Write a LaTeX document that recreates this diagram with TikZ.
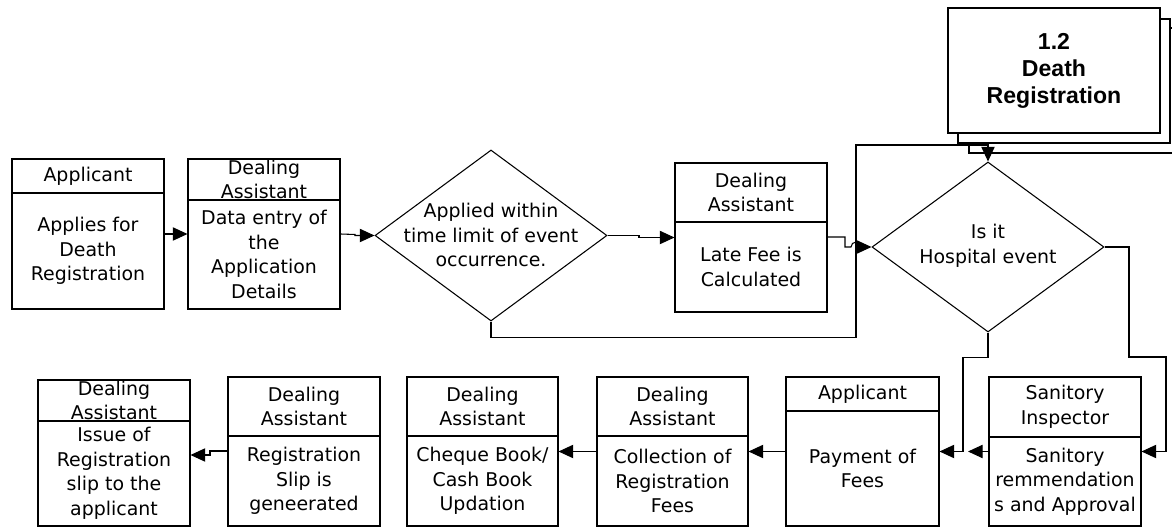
\documentclass[tikz,border=0pt]{standalone}
\usepackage{fontspec}
\setmainfont{DejaVu Sans}
\newfontfamily\procfont{Liberation Sans}
\usetikzlibrary{arrows.meta,shapes.geometric}

\tikzset{
  lane/.style={draw, line width=0.8pt, fill=white, inner sep=0pt},
  lanetxt/.style={align=center, font=\fontsize{14.2}{18.4}\selectfont, inner sep=0pt},
  decision/.style={diamond, draw, line width=0.8pt, inner sep=0pt},
  flow/.style={line width=0.8pt, -{Triangle[length=11pt,width=10pt]}},
  link/.style={line width=0.8pt},
  docpage/.style={draw, line width=1pt, fill=white, inner sep=0pt},
}

% swimlane box: name, x1, y1, x2, y2, divider y, actor, activity
\newcommand\lanebox[8]{%
  \node[lane, minimum width={(#4-#2)*0.75pt}, minimum height={(#5-#3)*0.75pt}]
    (#1) at ({(#2+#4)/2},{(#3+#5)/2}) {};
  \draw[link] (#2,#6) -- (#4,#6);
  \node[lanetxt] (#1h) at ({(#2+#4)/2},{(#3+#6)/2}) {#7};
  \node[lanetxt] (#1b) at ({(#2+#4)/2},{(#6+#5)/2}) {#8};
}

\begin{document}
\begin{tikzpicture}[x=0.75pt,y=-0.75pt]
\useasboundingbox (0,0) rectangle (1172,527);
\clip (0,0) rectangle (1172,527);

% process 1.2 drawn as a stack of pages
\node[docpage, minimum width={216*0.75pt}, minimum height={125*0.75pt}] (pg3) at (1077,90.5) {};
\node[docpage, minimum width={212*0.75pt}, minimum height={124*0.75pt}] (pg2) at (1064,81) {};
\node[docpage, minimum width={212*0.75pt}, minimum height={125*0.75pt},
      align=center, font=\procfont\bfseries\fontsize{17.3}{20.3}\selectfont] (pg1) at (1054,70.5)
      {1.2\\Death\\Registration};

% upper row
\lanebox{app}{12}{159}{164}{309}{193}{Applicant}{Applies for\\Death\\Registration}
\lanebox{entry}{188}{159}{340}{309}{200}{Dealing\\Assistant}{Data entry of\\the\\Application\\Details}
\lanebox{late}{675}{163}{827}{312}{222}{Dealing\\Assistant}{Late Fee is\\Calculated}

\node[decision, minimum width={232*0.75pt}, minimum height={171*0.75pt}] (lim) at (491,235.5) {};
\node[lanetxt] (limt) at (491,235) {Applied within\\time limit of event\\occurrence.};
\node[decision, minimum width={232*0.75pt}, minimum height={170*0.75pt}] (hosp) at (988,247) {};
\node[lanetxt] (hospt) at (988,246) {Is it\\Hospital event};

% lower row
\lanebox{issue}{38}{380}{190}{526}{421}{Dealing\\Assistant}{Issue of\\Registration\\slip to the\\applicant}
\lanebox{slip}{228}{377}{380}{526}{436}{Dealing\\Assistant}{Registration\\Slip is\\geneerated}
\lanebox{cash}{407}{377}{558}{526}{436}{Dealing\\Assistant}{Cheque Book/\\Cash Book\\Updation}
\lanebox{coll}{597}{377}{748}{526}{436}{Dealing\\Assistant}{Collection of\\Registration\\Fees}
\lanebox{pay}{786}{377}{939}{526}{411}{Applicant}{Payment of\\Fees}
\lanebox{san}{989}{377}{1141}{526}{437}{Sanitory\\Inspector}{Sanitory\\remmendation\\s and Approval}

% connectors of the upper row
\draw[flow] (app.east) -- (entry.west);
\draw[flow] (entry.east) -- (355,234.5) -- (355,235.5) -- (lim.west);
\draw[flow] (lim.east) -- (639,235.5) -- (639,237.5) -- (late.west);
\draw[flow] (lim.south) -- ++(0,16) -| (856,145) -| (hosp.north);
\draw[flow] (late.east |- 0,237) -- (845,237) -- (845,247) -- (851,247)
  arc[start angle=180, end angle=360, radius=5] -- (hosp.west);

% branches of the hospital decision
\draw[flow] (hosp.south) -- ++(0,25) -| (963,451.5) -- (pay.east);
\draw[flow] (hosp.east) -| (1129,357) -| (1166,451.5) -- (san.east);

% connectors of the lower row
\draw[flow] (san.west) -- (968,451.5);
\draw[flow] (pay.west) -- (coll.east);
\draw[flow] (coll.west) -- (cash.east);
\draw[flow] (slip.west |- 0,451) -- (210,451) -- (210,455) -- (issue.east |- 0,455);
\end{tikzpicture}
\end{document}
